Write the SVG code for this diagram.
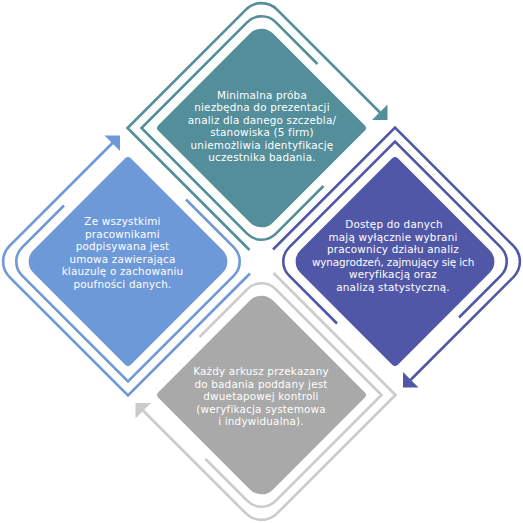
<svg xmlns="http://www.w3.org/2000/svg" xmlns:xlink="http://www.w3.org/1999/xlink" width="523" height="523" viewBox="0 0 523 523">
<style>
.ln{fill:none;stroke-width:2.6;stroke-linejoin:miter;stroke-linecap:butt}
.txt{font-family:"DejaVu Sans","Open Sans",sans-serif;font-size:10.4px;letter-spacing:0.2px;fill:#ffffff;text-anchor:middle}
.tight{letter-spacing:-0.1px}
.teal{fill:#538E9A}.tealS{stroke:#538E9A}
.purple{fill:#5057A7}.purpleS{stroke:#5057A7}
.blue{fill:#6E99D9}.blueS{stroke:#6E99D9}
.gray{fill:#A9A9A9}.grayS{stroke:#CBCBCB}.grayA{fill:#CBCBCB}
</style>
<defs>
<path id="fillShape" d="M -103.17 -2.83 L -11.31 -94.69 A 16 16 0 0 1 11.31 -94.69 L 103.17 -2.83 A 4 4 0 0 1 103.17 2.83 L 11.31 94.69 A 16 16 0 0 1 -11.31 94.69 L -103.17 2.83 A 4 4 0 0 1 -103.17 -2.83 Z"/>
<path id="innerLine" d="M 62 58 L 14.14 105.86 A 20 20 0 0 1 -14.14 105.86 L -120 0 L -14.14 -105.86 A 20 20 0 0 1 14.14 -105.86 L 56 -64"/>
<path id="outerLine" d="M -12 122 L -134 0 L -15.56 -118.44 A 22 22 0 0 1 15.56 -118.44 L 118.5 -15.5"/>
<path id="arrowHead" d="M 126 -8 L 110.5 -8 L 126 -23.5 Z"/>
</defs>
<g id="connectors">
<g transform="translate(261.5,128)"><use href="#outerLine" class="ln tealS"/><use href="#arrowHead" class="teal"/></g>
<g transform="translate(395,261.5) rotate(90)"><use href="#outerLine" class="ln purpleS"/><use href="#arrowHead" class="purple"/></g>
<g transform="translate(261.5,395) rotate(180)"><use href="#outerLine" class="ln grayS"/><use href="#arrowHead" class="grayA"/></g>
<g transform="translate(128,261.5) rotate(270)"><use href="#outerLine" class="ln blueS"/><use href="#arrowHead" class="blue"/></g>
</g>
<g id="node-top">
<g transform="translate(261.5,128)"><use href="#innerLine" class="ln tealS"/><use href="#fillShape" class="teal"/></g>
<text class="txt" x="262" y="98.5">Minimalna próba</text>
<text class="txt" x="262" y="111">niezbędna do prezentacji</text>
<text class="txt" x="262" y="123.5">analiz dla danego szczebla/</text>
<text class="txt" x="262" y="136">stanowiska (5 firm)</text>
<text class="txt" x="262" y="148.5">uniemożliwia identyfikację</text>
<text class="txt" x="262" y="161">uczestnika badania.</text>
</g>
<g id="node-right">
<g transform="translate(395,261.5) rotate(90)"><use href="#innerLine" class="ln purpleS"/><use href="#fillShape" class="purple"/></g>
<text class="txt" x="394" y="228">Dostęp do danych</text>
<text class="txt" x="393" y="240.5">mają wyłącznie wybrani</text>
<text class="txt" x="393" y="253">pracownicy działu analiz</text>
<text class="txt tight" x="393" y="265.5">wynagrodzeń, zajmujący się ich</text>
<text class="txt" x="393" y="278">weryfikacją oraz</text>
<text class="txt" x="393" y="290.5">analizą statystyczną.</text>
</g>
<g id="node-bottom">
<g transform="translate(261.5,395) rotate(180)"><use href="#innerLine" class="ln grayS"/><use href="#fillShape" class="gray"/></g>
<text class="txt" x="261" y="375">Każdy arkusz przekazany</text>
<text class="txt" x="261" y="387.5">do badania poddany jest</text>
<text class="txt" x="261" y="400">dwuetapowej kontroli</text>
<text class="txt" x="261" y="412.5">(weryfikacja systemowa</text>
<text class="txt" x="261" y="425">i indywidualna).</text>
</g>
<g id="node-left">
<g transform="translate(128,261.5) rotate(270)"><use href="#innerLine" class="ln blueS"/><use href="#fillShape" class="blue"/></g>
<text class="txt" x="122.5" y="225">Ze wszystkimi</text>
<text class="txt" x="122.5" y="237.5">pracownikami</text>
<text class="txt" x="122.5" y="250">podpisywana jest</text>
<text class="txt" x="122.5" y="262.5">umowa zawierająca</text>
<text class="txt" x="122.5" y="275">klauzulę o zachowaniu</text>
<text class="txt" x="122.5" y="287.5">poufności danych.</text>
</g>
</svg>
